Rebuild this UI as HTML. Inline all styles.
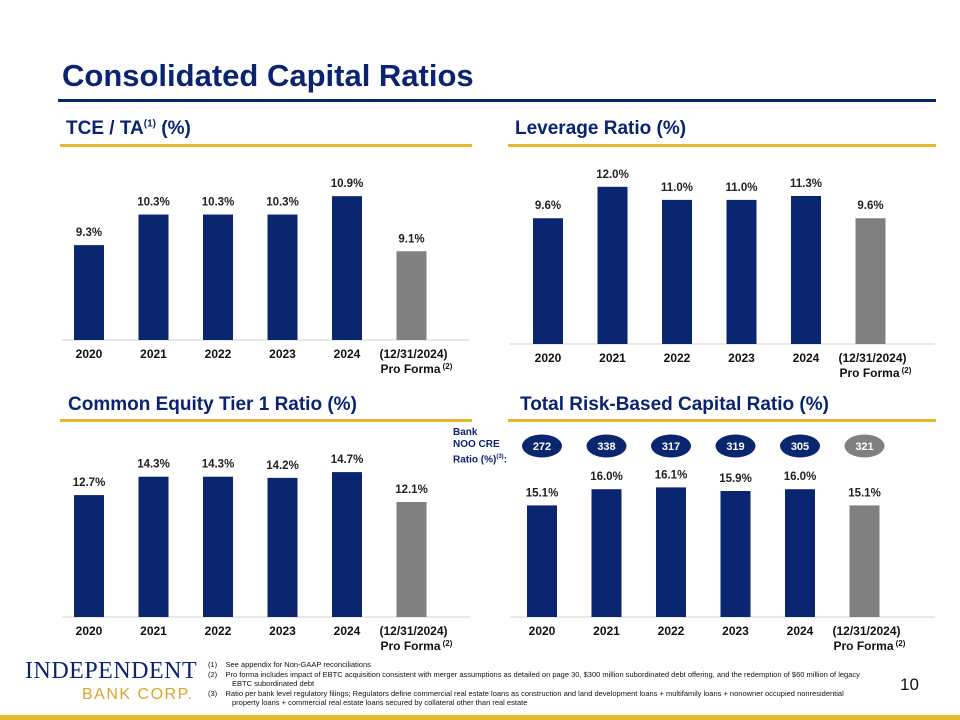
<!DOCTYPE html>
<html><head><meta charset="utf-8"><style>
body{margin:0;width:960px;height:720px;background:#fff;position:relative;overflow:hidden;font-family:"Liberation Sans",sans-serif}
.abs{position:absolute}
.h{position:absolute;font-weight:bold;color:#0a2472;font-size:19px}
.gold{position:absolute;height:3px;background:#e8b82c}
.fn{position:absolute;font-size:7.5px;color:#111;line-height:9px}
</style></head><body>
<div class="abs" style="left:62px;top:58px;font-size:31px;font-weight:bold;color:#0a2472">Consolidated Capital Ratios</div>
<div class="abs" style="left:58px;top:99px;width:878px;height:3px;background:#0a2472"></div>
<div class="h" style="left:66px;top:118px">TCE / TA<sup style="font-size:10px">(1)</sup> (%)</div>
<div class="gold" style="left:60px;top:144px;width:412px"></div>
<div class="h" style="left:515px;top:118px">Leverage Ratio (%)</div>
<div class="gold" style="left:508px;top:144px;width:428px"></div>
<div class="h" style="left:68px;top:394px">Common Equity Tier 1 Ratio (%)</div>
<div class="gold" style="left:60px;top:419px;width:412px"></div>
<div class="h" style="left:520px;top:394px">Total Risk-Based Capital Ratio (%)</div>
<div class="gold" style="left:508px;top:419px;width:428px"></div>
<div class="abs" style="left:453px;top:427px;font-size:10px;font-weight:bold;color:#0a2472;line-height:12px">Bank<br>NOO CRE<br>Ratio (%)<sup style="font-size:6px">(3)</sup>:</div>
<svg id="chart" class="abs" style="left:0;top:0" width="960" height="720"></svg>
<div class="abs" style="left:25px;top:658px;font-family:'Liberation Serif',serif;font-size:24px;color:#0a2472;letter-spacing:0.5px">INDEPENDENT</div>
<div class="abs" style="left:82px;top:686px;font-size:16px;color:#d9a62a;letter-spacing:1.5px">BANK CORP.</div>
<div class="fn" style="left:208px;top:660px">(1)&nbsp;&nbsp;&nbsp;&nbsp;See appendix for Non-GAAP reconciliations</div>
<div class="fn" style="left:208px;top:670px;width:630px;padding-left:24px;text-indent:-24px">(2)&nbsp;&nbsp;&nbsp;&nbsp;Pro forma includes impact of EBTC acquisition consistent with merger assumptions as detailed on page 30, $300 million subordinated debt offering, and the redemption of $60 million of legacy EBTC subordinated debt</div>
<div class="fn" style="left:208px;top:689px;width:630px;padding-left:24px;text-indent:-24px">(3)&nbsp;&nbsp;&nbsp;&nbsp;Ratio per bank level regulatory filings; Regulators define commercial real estate loans as construction and land development loans + multifamily loans + nonowner occupied nonresidential property loans + commercial real estate loans secured by collateral other than real estate</div>
<div class="abs" style="left:900px;top:675px;font-size:17px;color:#111">10</div>
<div class="abs" style="left:0;top:715px;width:960px;height:5px;background:#e8b82c"></div>
<script>
const categories=["2020","2021","2022","2023","2024","(12/31/2024)"];
const tceValues=[9.3,10.3,10.3,10.3,10.9,9.1];
const leverageValues=[9.6,12.0,11.0,11.0,11.3,9.6];
const cet1Values=[12.7,14.3,14.3,14.2,14.7,12.1];
const trbcValues=[15.1,16.0,16.1,15.9,16.0,15.1];
const nooCreValues=[272,338,317,319,305,321];
const svg=document.getElementById('chart');
const NS='http://www.w3.org/2000/svg';
function mk(tag,attrs,name){const e=document.createElementNS(NS,tag);for(const k in attrs)e.setAttribute(k,attrs[k]);


svg.appendChild(e);return e;}
function chart(id,vals,x0,base,min,k,gx0,gx1,ovals){
  const xs=i=>x0+i*64.5;
  const ys=v=>base-(v-min)*k;
  mk('line',{x1:gx0,x2:gx1,y1:base,y2:base,stroke:'#d0d0d0','stroke-width':1},id+'-baseline');
  vals.forEach((v,i)=>{
    const last=i===vals.length-1;
    mk('rect',{x:xs(i)-15,y:ys(v),width:30,height:base-ys(v),fill:last?'#808080':'#0b2671'},id+'-bar-'+categories[i]);
    const t=mk('text',{x:xs(i),y:ys(v)-9,'text-anchor':'middle','font-size':11.5,'font-weight':'bold',fill:'#222','font-family':'Liberation Sans,sans-serif'},id+'-value-'+categories[i]);
    t.textContent=v.toFixed(1)+'%';
    const lx=last?xs(i)+2:xs(i);
    const c=mk('text',{x:lx,y:base+18,'text-anchor':'middle','font-size':12,'font-weight':'bold',fill:'#111','font-family':'Liberation Sans,sans-serif'},id+'-xlabel-'+categories[i]);
    c.textContent=categories[i];
    if(last){const p=mk('text',{x:lx-3,y:base+33,'text-anchor':'middle','font-size':12,'font-weight':'bold',fill:'#111','font-family':'Liberation Sans,sans-serif'},id+'-proforma-label');
      p.textContent='Pro Forma';
      const s=mk('text',{x:lx+34,y:base+29,'text-anchor':'middle','font-size':8,'font-weight':'bold',fill:'#111','font-family':'Liberation Sans,sans-serif'},id+'-proforma-sup');s.textContent='(2)';}
    if(ovals){
      mk('ellipse',{cx:xs(i),cy:446,rx:20,ry:11.5,fill:last?'#808080':'#0b2671'},'noo-cre-oval-'+categories[i]);
      const o=mk('text',{x:xs(i),y:450,'text-anchor':'middle','font-size':11,'font-weight':'bold',fill:'#fff','font-family':'Liberation Sans,sans-serif'},'noo-cre-value-'+categories[i]);
      o.textContent=ovals[i];
    }
  });
}
chart('tce',tceValues,89,340,6.2,30.6,62,470);
chart('leverage',leverageValues,548,344,0,13.1,510,935);
chart('cet1',cet1Values,89,617,2.1,11.5,62,470);
chart('trbc',trbcValues,542,617,8.9,18,510,935,nooCreValues);
</script>
</body></html>
